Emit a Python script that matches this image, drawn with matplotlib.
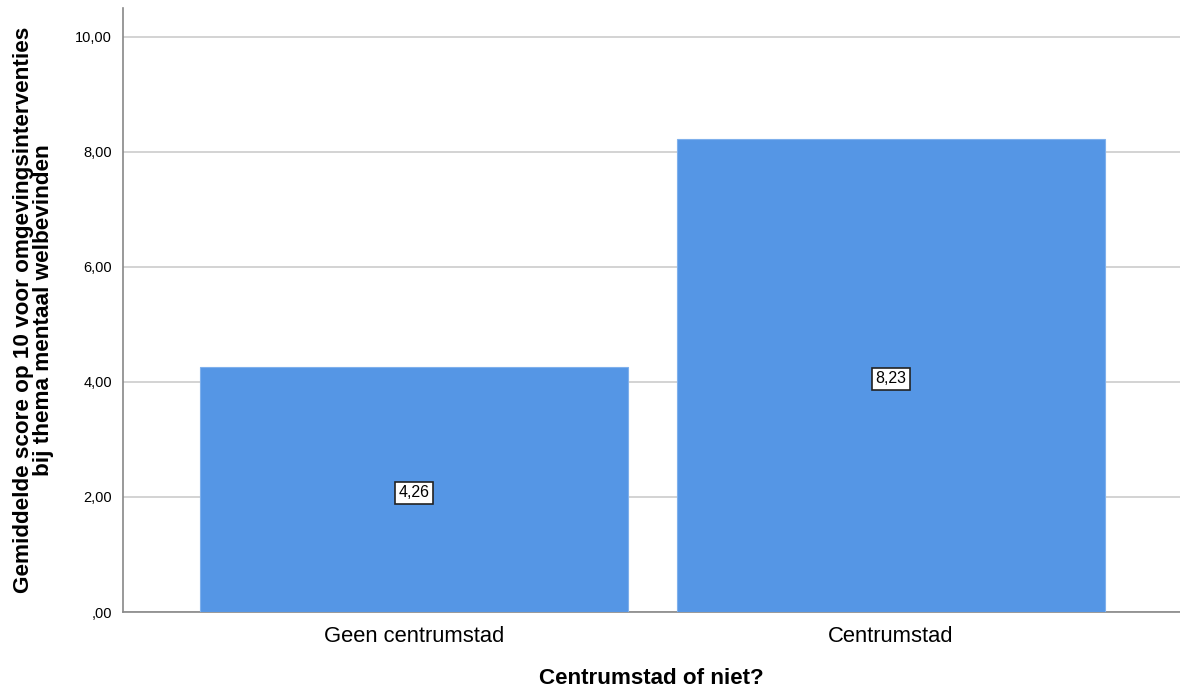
import matplotlib
matplotlib.use("Agg")
import matplotlib.pyplot as plt
from matplotlib.ticker import FuncFormatter

categories = ["Geen centrumstad", "Centrumstad"]
means = [4.26, 8.23]
y_ticks = [0, 2, 4, 6, 8, 10]

plt.rcParams["font.family"] = ["Liberation Sans", "DejaVu Sans"]

fig = plt.figure(figsize=(11.8, 6.91), dpi=100)
ax = fig.add_axes([0.1042, 0.1143, 0.8958, 0.8741])

x = list(range(len(categories)))
ax.bar(x, means, width=0.897, color="#5596E5", edgecolor="#7FB0EC", linewidth=0.8, zorder=3)

for xi, v in zip(x, means):
    ax.text(xi, v / 2 - 0.06, f"{v:.2f}".replace(".", ","), ha="center", va="center",
            fontsize=11.5, color="black", zorder=5,
            bbox=dict(boxstyle="square,pad=0.22", facecolor="white",
                      edgecolor="#222222", linewidth=1.2))

ax.set_xlim(-0.61, 1.606)
ax.set_ylim(0, 10.5)
ax.set_yticks(y_ticks)

def dutch(v, pos):
    s = f"{v:.2f}".replace(".", ",")
    return s[1:] if s.startswith("0") else s

ax.yaxis.set_major_formatter(FuncFormatter(dutch))
ax.set_xticks(x)
ax.set_xticklabels(categories, fontsize=15.8)
ax.tick_params(axis="y", labelsize=10.5, length=0, pad=8)
ax.tick_params(axis="x", length=0, pad=10)

ax.grid(axis="y", color="#CCCCCC", linewidth=1.2, zorder=0)
ax.set_axisbelow(True)
for side in ["top", "right"]:
    ax.spines[side].set_visible(False)
for side in ["left", "bottom"]:
    ax.spines[side].set_color("#888888")
    ax.spines[side].set_linewidth(1.2)

ax.set_ylabel("Gemiddelde score op 10 voor omgevingsinterventies\nbij thema mentaal welbevinden",
              fontsize=16.2, fontweight="bold", labelpad=15, linespacing=0.95)
ax.set_xlabel("Centrumstad of niet?", fontsize=16.1, fontweight="bold", labelpad=15)

fig.savefig("out.png", dpi=100)
